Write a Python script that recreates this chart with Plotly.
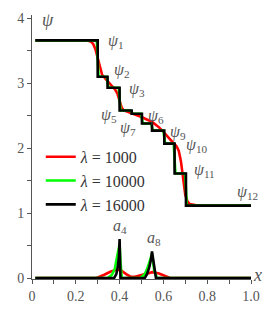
import plotly.graph_objects as go

# ---------------- data ----------------
# psi, lambda = 16000 (step curve: x of each level start, level value)
psi16_x = [0.015, 0.300, 0.345, 0.400, 0.455, 0.502, 0.548, 0.604, 0.651, 0.703, 1.000]
psi16_y = [3.66, 3.10, 2.93, 2.58, 2.53, 2.38, 2.27, 2.07, 1.61, 1.115, 1.115]

# psi, lambda = 10000
psi10_x = [0.015, 0.296, 0.304, 0.341, 0.349, 0.396, 0.404, 0.451, 0.459, 0.498, 0.506,
           0.544, 0.552, 0.600, 0.608, 0.647, 0.655, 0.699, 0.707, 1.000]
psi10_y = [3.66, 3.66, 3.10, 3.10, 2.93, 2.93, 2.58, 2.58, 2.53, 2.53, 2.38,
           2.38, 2.27, 2.27, 2.07, 2.07, 1.61, 1.61, 1.115, 1.115]

# psi, lambda = 1000
psi1_x = [0.015, 0.25, 0.27, 0.28, 0.29, 0.30, 0.31, 0.32, 0.34, 0.36, 0.38, 0.39, 0.40,
          0.41, 0.42, 0.45, 0.50, 0.55, 0.58, 0.60, 0.62, 0.64, 0.66, 0.67, 0.68, 0.69,
          0.70, 0.71, 0.72, 0.75, 1.00]
psi1_y = [3.66, 3.66, 3.64, 3.60, 3.52, 3.40, 3.25, 3.13, 3.05, 2.97, 2.90, 2.84, 2.72,
          2.62, 2.58, 2.54, 2.48, 2.40, 2.32, 2.25, 2.17, 2.10, 2.03, 1.96, 1.80, 1.50,
          1.28, 1.18, 1.14, 1.12, 1.115]

# a, lambda = 16000
a16_x = [0.015, 0.375, 0.385, 0.392, 0.397, 0.400, 0.404, 0.515, 0.525, 0.535, 0.543, 0.548, 0.566, 1.000]
a16_y = [0.0, 0.0, 0.06, 0.18, 0.33, 0.60, 0.0, 0.0, 0.06, 0.16, 0.28, 0.41, 0.0, 0.0]

# a, lambda = 10000
a10_x = [0.015, 0.345, 0.365, 0.378, 0.388, 0.396, 0.400, 0.404, 0.410, 0.495, 0.515, 0.527,
         0.537, 0.545, 0.548, 0.558, 0.570, 1.000]
a10_y = [0.0, 0.0, 0.05, 0.14, 0.32, 0.48, 0.52, 0.25, 0.0, 0.0, 0.06, 0.15, 0.26, 0.35,
         0.37, 0.12, 0.0, 0.0]

# a, lambda = 1000
a1_x = [0.015, 0.295, 0.33, 0.36, 0.39, 0.41, 0.43, 0.45, 0.47, 0.50, 0.53, 0.55, 0.58, 0.61, 0.63, 1.00]
a1_y = [0.0, 0.0, 0.05, 0.10, 0.13, 0.11, 0.06, 0.02, 0.02, 0.05, 0.08, 0.09, 0.07, 0.03, 0.0, 0.0]

# labels
psi_labels = ["1", "2", "3", "5", "7", "6", "9", "10", "11", "12"]
psi_lab_x = [0.385, 0.412, 0.480, 0.350, 0.440, 0.568, 0.668, 0.752, 0.788, 0.985]
psi_lab_y = [3.64, 3.20, 2.91, 2.51, 2.31, 2.48, 2.24, 2.04, 1.65, 1.32]
a_labels = ["4", "8"]
a_lab_x = [0.400, 0.555]
a_lab_y = [0.80, 0.61]

legend_names = ["<i>λ</i> = 1000", "<i>λ</i> = 10000", "<i>λ</i> = 16000"]
colors = ["#ff0000", "#00ff00", "#000000"]

SERIF = "Liberation Serif"
TXT = "#555555"

fig = go.Figure()

series = [
    (psi1_x, psi1_y, a1_x, a1_y, "linear"),
    (psi10_x, psi10_y, a10_x, a10_y, "linear"),
    (psi16_x, psi16_y, a16_x, a16_y, "hv"),
]
for i, (px, py, ax, ay, shape) in enumerate(series):
    fig.add_trace(go.Scatter(x=px, y=py, mode="lines", name=legend_names[i],
                             line=dict(color=colors[i], width=2.6, shape=shape),
                             legendgroup=str(i), showlegend=True))
    fig.add_trace(go.Scatter(x=ax, y=ay, mode="lines", name=legend_names[i],
                             line=dict(color=colors[i], width=2.6),
                             legendgroup=str(i), showlegend=False))

for lab, x, y in zip(psi_labels, psi_lab_x, psi_lab_y):
    fig.add_annotation(x=x, y=y, text=f"<i>ψ</i><sub>{lab}</sub>", showarrow=False,
                       font=dict(family=SERIF, size=16, color=TXT))
for lab, x, y in zip(a_labels, a_lab_x, a_lab_y):
    fig.add_annotation(x=x, y=y, text=f"<i>a</i><sub>{lab}</sub>", showarrow=False,
                       font=dict(family=SERIF, size=16, color=TXT))

fig.add_annotation(x=0.075, y=3.97, text="<i>ψ</i>", showarrow=False,
                   font=dict(family=SERIF, size=18, color=TXT))
fig.add_annotation(xref="paper", yref="y", x=1.058, y=0.04, text="<i>x</i>", showarrow=False,
                   font=dict(family=SERIF, size=18, color=TXT))

fig.update_layout(
    width=273, height=315,
    margin=dict(l=32, r=22, t=15, b=36),
    paper_bgcolor="white", plot_bgcolor="white",
    showlegend=True,
    legend=dict(x=0.04, y=0.527, xanchor="left", yanchor="top",
                bgcolor="rgba(0,0,0,0)", font=dict(family=SERIF, size=16, color="#333"),
                itemwidth=30, tracegroupgap=0),
    font=dict(family=SERIF),
)
fig.update_xaxes(range=[0, 1.0], showgrid=False, zeroline=False, automargin=False,
                 showline=True, linecolor="#555", linewidth=1,
                 ticks="outside", ticklen=4, tickcolor="#555",
                 tickvals=[0, 0.2, 0.4, 0.6, 0.8, 1.0], ticktext=["0", "0.2", "0.4", "0.6", "0.8", "1.0"],
                 minor=dict(tickvals=[0.1, 0.3, 0.5, 0.7, 0.9], ticks="outside", ticklen=4, tickcolor="#555"),
                 tickfont=dict(family=SERIF, size=14, color=TXT))
fig.update_yaxes(range=[-0.015, 4.05], showgrid=False, zeroline=False, automargin=False,
                 showline=True, linecolor="#555", linewidth=1,
                 ticks="outside", ticklen=4, tickcolor="#555",
                 tickvals=[0, 1, 2, 3, 4],
                 minor=dict(tickvals=[0.5, 1.5, 2.5, 3.5], ticks="outside", ticklen=4, tickcolor="#555"),
                 tickfont=dict(family=SERIF, size=14, color=TXT))

fig.write_html("out.html", post_script="document.body.style.margin='0';",
               config={"displayModeBar": False, "staticPlot": True})
